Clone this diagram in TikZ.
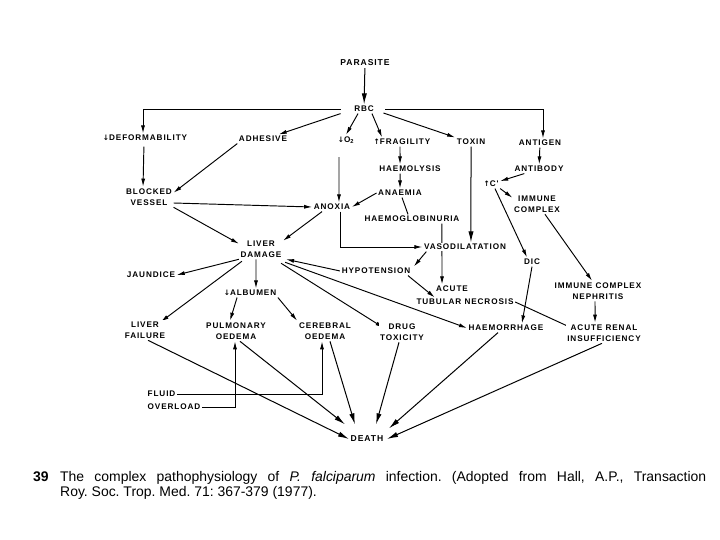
\documentclass[tikz,border=0pt]{standalone}
\usepackage{fontspec}
\setmainfont{Liberation Sans}
\newfontfamily\labfont[LetterSpace=11]{Liberation Sans}
\newfontfamily\arrfont{DejaVu Sans}
\usetikzlibrary{arrows.meta,backgrounds}
\frenchspacing
\newcommand{\dnar}{{\arrfont\bfseries\fontsize{7.5}{7.5}\selectfont ↓}}
\newcommand{\upar}{{\arrfont\bfseries\fontsize{7.5}{7.5}\selectfont ↑}}
\tikzset{
  lbl/.style={font=\labfont\bfseries\fontsize{8.2}{11.5}\selectfont, align=center, inner sep=1.5bp, fill=white},
  bigl/.style={lbl, font=\labfont\bfseries\fontsize{8.6}{11.5}\selectfont},
  con/.style={line width=0.95bp, -{Latex[length=8bp,width=4bp]}},
  big/.style={line width=1bp, -{Latex[length=11bp,width=5.2bp]}},
  plain/.style={line width=0.95bp},
  captext/.style={anchor=base west, inner sep=0pt, font=\fontsize{14}{15}\selectfont}
}
\begin{document}
\begin{tikzpicture}[x=1bp,y=-1bp]
\begin{scope}[on background layer]
\fill[white] (0,0) rectangle (720,540);
\end{scope}
\useasboundingbox (0,0) rectangle (720,540);

\node[bigl] (par) at (365,63) {PARASITE};
\node[lbl] (rbc) at (364,109) {RBC};
\node[lbl] (def) at (145,138) {\dnar DEFORMABILITY};
\node[lbl] (adh) at (263,139) {ADHESIVE};
\node[lbl] (o2) at (346,140) {\dnar O\textsubscript{2}};
\node[lbl] (fra) at (402,142) {\upar FRAGILITY};
\node[lbl] (tox) at (471,142) {TOXIN};
\node[lbl] (ant) at (540,143) {ANTIGEN};
\node[lbl] (hly) at (410,169) {HAEMOLYSIS};
\node[lbl] (aby) at (539,169) {ANTIBODY};
\node[lbl] (cp) at (491,184) {\upar C'};
\node[lbl] (ane) at (400,193) {ANAEMIA};
\node[lbl] (imc) at (537,204) {IMMUNE\\COMPLEX};
\node[lbl] (blk) at (149,197) {BLOCKED\\VESSEL};
\node[lbl] (anx) at (332,207) {ANOXIA};
\node[lbl] (hgb) at (412,219) {HAEMOGLOBINURIA};
\node[lbl] (liv) at (261,249) {LIVER\\DAMAGE};
\node[lbl] (vas) at (465,247) {VASODILATATION};
\node[lbl] (dic) at (532,262) {DIC};
\node[lbl] (hyp) at (376,271) {HYPOTENSION};
\node[lbl] (jau) at (151,275) {JAUNDICE};
\node[lbl] (alb) at (250,293) {\dnar ALBUMEN};
\node[lbl] (atna) at (452,289) {ACUTE};
\node[lbl] (atnb) at (465,302) {TUBULAR NECROSIS};
\node[lbl] (icn) at (598,291) {IMMUNE COMPLEX\\NEPHRITIS};
\node[lbl] (lfl) at (145,330) {LIVER\\FAILURE};
\node[lbl] (pul) at (236,331) {PULMONARY\\OEDEMA};
\node[lbl] (cer) at (325,331) {CEREBRAL\\OEDEMA};
\node[lbl] (drg) at (402,332) {DRUG\\TOXICITY};
\node[lbl] (hae) at (506,328) {HAEMORRHAGE};
\node[lbl] (ari) at (604,333) {ACUTE RENAL\\INSUFFICIENCY};
\node[lbl, anchor=west] (flu) at (146,394) {FLUID};
\node[lbl, anchor=west] (ovl) at (146,407) {OVERLOAD};
\node[bigl] (dth) at (367,439) {DEATH};

\node[captext, font=\bfseries\fontsize{14}{15}\selectfont] (num) at (33,481) {39};
\node[captext] (cap1) at (60,481) {\makebox[646bp][s]{The complex pathophysiology of \textit{P. falciparum} infection. (Adopted from Hall, A.P., Transaction}};
\node[captext] (cap2) at (60,496) {Roy. Soc. Trop. Med. 71: 367-379 (1977).};

\begin{scope}[on background layer]
\draw[big] (par) -- (rbc);
\draw[con] ([xshift=-12]rbc.west) -| ([xshift=-2]def.north);
\draw[con] ([xshift=10]rbc.east) -| ([xshift=3]ant.north);
\draw[con] ([xshift=-12]rbc.south west) -- ([xshift=-10]adh.north east);
\draw[con] ([xshift=-6]rbc.south) -- (o2.north);
\draw[con] ([xshift=8]rbc.south) -- ([xshift=-20]fra.north);
\draw[con] ([shift={(8,4)}]rbc.east) -- (tox.north west);
\draw[con, shorten <=4bp] ([xshift=-1]def.south) -- ([xshift=-6]blk.north);
\draw[con] (adh.south west) -- ([shift={(0,6)}]blk.north east);
\draw[con, shorten <=12bp] ([xshift=-7]o2.south) -- ([xshift=7]anx.north);
\draw[con] ([xshift=-2]fra.south) -- ([xshift=-10]hly.north);
\draw[con] ([xshift=-10]hly.south) -- (ane.north);
\draw[con] (ane.west) -- (anx.east);
\draw[plain] ([xshift=2]ane.south) -- ([xshift=-4]hgb.north);
\draw[big] (tox.south) -- ([xshift=6]vas.north);
\draw[con] ([xshift=30]hgb.south) -- ([xshift=-10]atna.north);
\draw[con] ([shift={(0,6)}]blk.east) -- (anx.west);
\draw[con] (blk.south east) -- ([shift={(0,5)}]liv.north west);
\draw[con] ([xshift=-10]anx.south) -- ([shift={(0,2)}]liv.north east);
\draw[con] ([xshift=9]anx.south) |- (vas.west);
\draw[con] (ant) -- (aby);
\draw[con] (aby) -- (cp);
\draw[con] (cp.south east) -- ([shift={(0,4)}]imc.north west);
\draw[con] ([xshift=4]cp.south) -- ([xshift=-5]dic.north);
\draw[con] ([xshift=8]imc.south) -- ([xshift=-6]icn.north);
\draw[con] ([xshift=-3]icn.south) -- ([xshift=-9]ari.north);
\draw[con] (dic.south) -- ([xshift=16]hae.north);
\draw[con] ([xshift=4]vas.south west) -- ([xshift=2]hyp.north east);
\draw[con] ([xshift=-4]hyp.south east) -- ([xshift=20]atnb.north west);
\draw[con] (hyp.west) -- ([xshift=3]liv.south east);
\draw[con] (atnb.east) -- ([shift={(12,8)}]ari.north west);
\draw[con] (liv.south west) -- (jau.east);
\draw[con] ([xshift=-5]liv.south) -- ([xshift=6]alb.north);
\draw[con] ([shift={(3,2)}]liv.south west) -- ([shift={(-6,2)}]lfl.north east);
\draw[con] ([shift={(-2,4)}]liv.south east) -- ([shift={(5,6)}]drg.north west);
\draw[con] ([shift={(2,3)}]liv.south east) -- (hae.west);
\draw[con] ([xshift=-13]alb.south) -- ([xshift=-6]pul.north);
\draw[con] ([xshift=28]alb.south) -- ([xshift=-28]cer.north);
\draw[con] (flu.east) -| ([xshift=-3]cer.south);
\draw[con] (ovl.east) -| ([xshift=-1]pul.south);
\draw[big] ([xshift=3]lfl.south) -- (dth.west);
\draw[big] ([xshift=4]pul.south) -- ([shift={(-4,-10)}]dth.north west);
\draw[big] ([xshift=5]cer.south) -- ([shift={(6,-10)}]dth.north west);
\draw[big] ([xshift=-3]drg.south) -- ([shift={(-9,-10)}]dth.north east);
\draw[big] ([xshift=-8]hae.south) -- ([shift={(4,-6)}]dth.north east);
\draw[big] ([xshift=-2]ari.south) -- ([shift={(2,0)}]dth.east);
\end{scope}
\end{tikzpicture}
\end{document}
